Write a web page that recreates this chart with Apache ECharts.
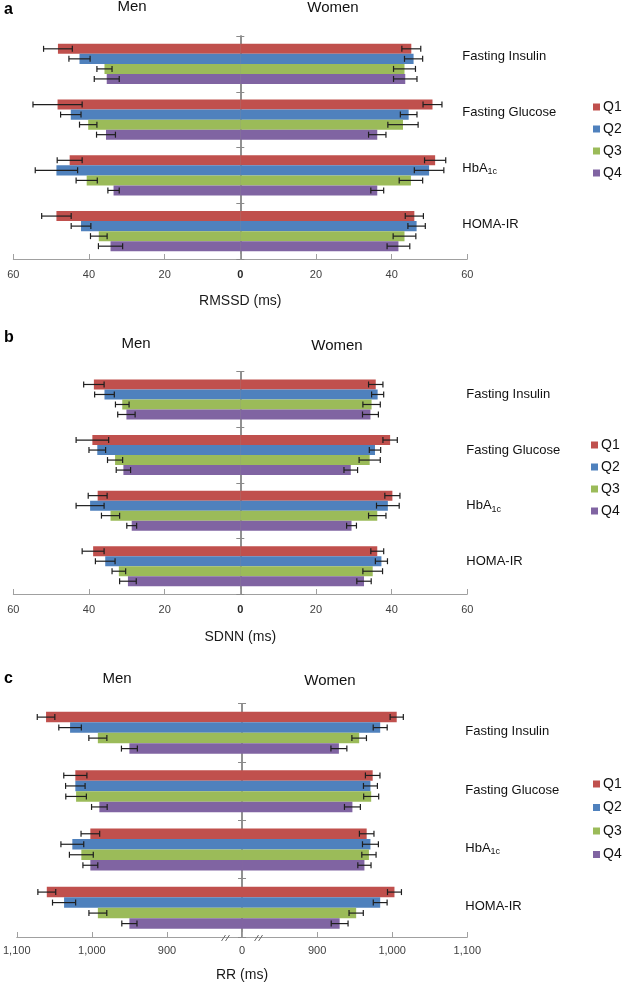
<!DOCTYPE html>
<html><head><meta charset="utf-8">
<script src="https://cdn.jsdelivr.net/npm/echarts@6/dist/echarts.min.js"></script>
<style>html,body{margin:0;padding:0;background:#fff}#c{width:625px;height:983px}</style>
</head><body><div id="c"></div><script>
// ---------- DATA ----------
const categories = ['Fasting Insulin', 'Fasting Glucose', 'HbA1c', 'HOMA-IR'];
const quartiles = ['Q1', 'Q2', 'Q3', 'Q4'];
const colors = ['#C0504D', '#4F81BD', '#9BBB59', '#8064A2'];

// RMSSD (ms): rows = Q1..Q4, columns = categories
const rmssdMen      = [[48.2, 48.3, 45.1, 48.6], [42.5, 44.8, 48.6, 42.1], [35.9, 40.2, 40.6, 37.4], [35.3, 35.5, 33.5, 34.3]];
const rmssdMenErr   = [[3.8, 6.5, 3.3, 3.9], [2.8, 2.7, 5.6, 2.6], [2.0, 2.3, 2.8, 2.2], [3.3, 2.5, 1.5, 3.2]];
const rmssdWomen    = [[45.2, 50.8, 51.5, 46.0], [45.8, 44.5, 49.9, 46.6], [43.4, 43.0, 45.1, 43.4], [43.6, 36.2, 36.2, 41.8]];
const rmssdWomenErr = [[2.5, 2.5, 2.8, 2.4], [2.4, 2.2, 3.9, 2.3], [2.9, 4.0, 3.1, 3.0], [3.1, 2.3, 1.7, 3.0]];

// SDNN (ms)
const sdnnMen      = [[38.7, 39.1, 37.7, 38.9], [35.9, 37.8, 39.7, 35.7], [31.2, 33.1, 34.3, 32.1], [30.1, 30.9, 28.7, 29.7]];
const sdnnMenErr   = [[2.7, 4.3, 2.5, 2.9], [2.6, 2.2, 3.7, 2.6], [1.8, 2.0, 2.4, 1.8], [2.3, 1.9, 1.3, 2.2]];
const sdnnWomen    = [[35.8, 39.6, 40.2, 36.2], [36.3, 35.6, 39.0, 37.3], [34.7, 34.2, 36.2, 35.0], [34.4, 29.2, 29.4, 32.7]];
const sdnnWomenErr = [[1.9, 1.9, 2.0, 1.7], [1.6, 1.5, 3.0, 1.6], [2.3, 2.8, 2.3, 2.6], [2.1, 1.8, 1.3, 1.9]];

// RR (ms) - axis broken at 800
const rrMen      = [[1061, 1022, 1002, 1060], [1029, 1022, 1026, 1037], [992, 1021, 1014, 992], [950, 990, 1002, 950]];
const rrMenErr   = [[11.7, 15.4, 12.4, 11.9], [15.0, 13.0, 15.2, 15.4], [12.0, 13.7, 15.9, 11.9], [10.6, 10.4, 9.9, 10.1]];
const rrWomen    = [[1006, 974, 966, 1003], [984, 971, 971, 984], [956, 972, 969, 952], [929, 947, 963, 930]];
const rrWomenErr = [[8.8, 9.7, 9.7, 9.3], [9.3, 9.3, 10.6, 9.2], [9.7, 10.0, 9.5, 9.5], [10.6, 10.6, 8.8, 11.2]];
const rrBreak = 800;

// ---------- LAYOUT ----------
const FONT = "'Liberation Sans', Arial, sans-serif";
const NARROW = "'Liberation Sans Narrow', 'Liberation Sans', Arial, sans-serif";
const GAP = 0.28;
const panels = [
  { letter: 'a', men: rmssdMen, menErr: rmssdMenErr, women: rmssdWomen, womenErr: rmssdWomenErr, base: 0,
    max: 60, interval: 20, name: 'RMSSD (ms)', top: 36, height: 223, nameGap: 35, labMargin: 10,
    catShift: 7, catOffset: -5, legendTop: 100, legendLeft: 593, legendGap: 8,
    letterY: 10, menX: 132, menY: 7, womenX: 333, womenY: 8 },
  { letter: 'b', men: sdnnMen, menErr: sdnnMenErr, women: sdnnWomen, womenErr: sdnnWomenErr, base: 0,
    max: 60, interval: 20, name: 'SDNN (ms)', top: 371.7, height: 222.3, nameGap: 36, labMargin: 10,
    catShift: 5, catOffset: -1, legendTop: 438, legendLeft: 591, legendGap: 8,
    letterY: 338, menX: 136, menY: 344, womenX: 337, womenY: 346 },
  { letter: 'c', men: rrMen, menErr: rrMenErr, women: rrWomen, womenErr: rrWomenErr, base: rrBreak,
    max: 300, interval: 100, name: 'RR (ms)', top: 703.7, height: 234.3, nameGap: 31, labMargin: 8,
    catShift: 1, catOffset: -2, legendTop: 777, legendLeft: 593, legendGap: 9.5,
    letterY: 679, menX: 117, menY: 679, womenX: 330, womenY: 681 }
];
const GRID_LEFT = 13.3, GRID_W = 454;

function makeErr(qi) {
  return function (params, api) {
    const v = api.value(0), cat = api.value(1), e = api.value(2);
    const a = api.coord([v - e, cat]), b = api.coord([v + e, cat]);
    const band = api.size([0, 1])[1];
    const groupH = band * (1 - GAP), barH = groupH / 4;
    const y = a[1] - groupH / 2 + barH * (qi + 0.5);
    const cap = 3;
    const style = { stroke: '#1f1f1f', lineWidth: 1.2 };
    return { type: 'group', children: [
      { type: 'line', shape: { x1: a[0], y1: y, x2: b[0], y2: y }, style },
      { type: 'line', shape: { x1: a[0], y1: y - cap, x2: a[0], y2: y + cap }, style },
      { type: 'line', shape: { x1: b[0], y1: y - cap, x2: b[0], y2: y + cap }, style }
    ]};
  };
}

const grid = [], xAxis = [], yAxis = [], series = [], legend = [], graphic = [];
panels.forEach((p, gi) => {
  grid.push({ left: GRID_LEFT, width: GRID_W, top: p.top, height: p.height });
  const isBreak = p.base !== 0;
  xAxis.push({
    gridIndex: gi, type: 'value', min: -p.max, max: p.max, interval: p.interval,
    name: p.name, nameLocation: 'middle', nameGap: p.nameGap,
    nameTextStyle: { fontFamily: FONT, fontSize: 14, color: '#1a1a1a' },
    axisLine: { show: true, onZero: false, lineStyle: { color: '#a0a0a0', width: 1 } },
    axisTick: { show: true, inside: true, length: 5, lineStyle: { color: '#a0a0a0' } },
    splitLine: { show: false },
    axisLabel: {
      margin: p.labMargin, fontFamily: NARROW, fontSize: 11, color: '#404040',
      showMinLabel: true, showMaxLabel: true,
      formatter: v => {
        if (v === 0) return isBreak ? '0' : '{z|0}';
        return isBreak ? (Math.abs(v) + p.base).toLocaleString('en-US') : String(Math.abs(v));
      },
      rich: { z: { fontFamily: NARROW, fontSize: 11, fontWeight: 'bold', color: '#262626' } }
    }
  });
  // center axis (line + outside ticks)
  yAxis.push({
    gridIndex: gi, type: 'category', data: categories, inverse: true, position: 'left',
    axisLine: { show: true, onZero: true, onZeroAxisIndex: gi, lineStyle: { color: '#8a8a8a', width: 1.5 } },
    axisTick: { show: true, length: 4, lineStyle: { color: '#8a8a8a' } },
    axisLabel: { show: false }
  });
  // category labels on right
  yAxis.push({
    gridIndex: gi, type: 'category', data: categories, inverse: true, position: 'right', offset: p.catOffset,
    axisLine: { show: false, onZero: false }, axisTick: { show: false },
    axisLabel: {
      margin: 0, padding: [0, 0, p.catShift * 2, 0],
      formatter: v => v === 'HbA1c' ? '{n|HbA}{s|1c}' : '{n|' + v + '}',
      rich: {
        n: { fontFamily: FONT, fontSize: 13, color: '#111' },
        s: { fontFamily: FONT, fontSize: 9, color: '#111', padding: [7, 0, 0, 0] }
      }
    }
  });
  // inside ticks on center axis
  yAxis.push({
    gridIndex: gi, type: 'category', data: categories, inverse: true, position: 'left',
    axisLine: { show: true, onZero: true, onZeroAxisIndex: gi, lineStyle: { color: '#8a8a8a', width: 1.5 } },
    axisTick: { show: true, inside: true, length: 4, lineStyle: { color: '#8a8a8a' } },
    axisLabel: { show: false }
  });

  quartiles.forEach((q, qi) => {
    const common = {
      name: q, type: 'bar', xAxisIndex: gi, yAxisIndex: gi * 3, stack: 'g' + gi + q,
      barCategoryGap: (GAP * 100) + '%', barGap: '0%', itemStyle: { color: colors[qi] },
      emphasis: { disabled: true }, animation: false
    };
    series.push(Object.assign({}, common, { data: p.men[qi].map(v => -(v - p.base)) }));
    series.push(Object.assign({}, common, { data: p.women[qi].map(v => v - p.base) }));
    const errData = [];
    p.men[qi].forEach((v, ci) => errData.push([-(v - p.base), ci, p.menErr[qi][ci]]));
    p.women[qi].forEach((v, ci) => errData.push([v - p.base, ci, p.womenErr[qi][ci]]));
    series.push({
      name: q, type: 'custom', xAxisIndex: gi, yAxisIndex: gi * 3, z: 5, animation: false,
      renderItem: makeErr(qi), encode: { x: 0, y: 1 }, data: errData, silent: true
    });
  });

  legend.push({
    orient: 'vertical', left: p.legendLeft, top: p.legendTop, padding: 0,
    itemWidth: 7, itemHeight: 7, itemGap: p.legendGap, icon: 'rect',
    data: quartiles, selectedMode: false,
    textStyle: { fontFamily: FONT, fontSize: 14, color: '#111', padding: [0, 0, 0, -2] }
  });

  graphic.push({ type: 'text', left: 4, top: p.letterY - 8,
    style: { text: p.letter, font: 'bold 16px ' + FONT, fill: '#000' } });
  graphic.push({ type: 'text', x: p.menX, y: p.menY,
    style: { text: 'Men', font: '15px ' + FONT, fill: '#111', textAlign: 'center', textVerticalAlign: 'middle' } });
  graphic.push({ type: 'text', x: p.womenX, y: p.womenY,
    style: { text: 'Women', font: '15px ' + FONT, fill: '#111', textAlign: 'center', textVerticalAlign: 'middle' } });
});

const chart = echarts.init(document.getElementById('c'), null, { renderer: 'canvas' });
chart.setOption({ animation: false, backgroundColor: '#fff', grid, xAxis, yAxis, series, legend, graphic });

// axis break marks for RR panel
const pc = panels[2];
const yAx = pc.top + pc.height;
const marks = [];
[-22, 22].forEach(v => {
  const x = chart.convertToPixel({ xAxisIndex: 2 }, v);
  [-2, 2].forEach(dx => {
    marks.push({ type: 'line', shape: { x1: x + dx - 2, y1: yAx + 3, x2: x + dx + 2, y2: yAx - 3 },
      style: { stroke: '#6a6a6a', lineWidth: 1 }, z: 10 });
  });
});
chart.setOption({ graphic: graphic.concat(marks) });
</script></body></html>
